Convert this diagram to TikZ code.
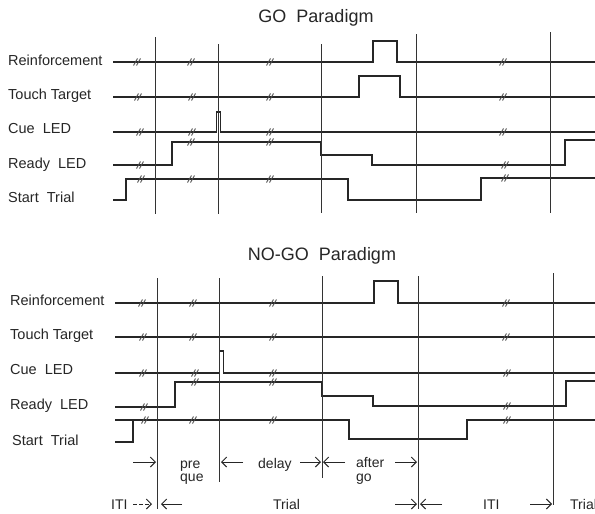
\documentclass[tikz,border=0pt]{standalone}
\usepackage{fontspec}
\setmainfont{Liberation Sans}
\usetikzlibrary{arrows.meta}
\tikzset{
 sig/.style={line width=1.2pt, draw=black!85},
 vline/.style={line width=0.8pt, draw=black!80},
 lbl/.style={anchor=base west, inner sep=0pt, font=\fontsize{14.5}{16}\selectfont, text=black!85},
 ttl/.style={anchor=base, inner sep=0pt, font=\fontsize{18}{20}\selectfont, text=black!85},
 ann/.style={anchor=base west, inner sep=0pt, font=\fontsize{14}{15}\selectfont, text=black!85},
 arr/.style={line width=1pt, draw=black!85, -{Straight Barb[length=5pt,width=10pt]}},
 brkline/.style={line width=0.9pt, draw=black!70},
 brk/.pic={\draw[brkline] (-3.5,3.5)--(0.5,-3.5); \draw[brkline] (-0.5,3.5)--(3.5,-3.5);}
}
\begin{document}
\begin{tikzpicture}[x=1pt,y=-1pt]
\useasboundingbox (0,0) rectangle (595,514);
\fill[white] (0,0) rectangle (595,514);

% ===== GO Paradigm =====
\node[ttl] (t1) at (316,23) {GO\ \ Paradigm};
\node[lbl] (l1) at (8,65) {Reinforcement};
\node[lbl] (l2) at (8,99) {Touch\ Target};
\node[lbl] (l3) at (8,133) {Cue\ \ LED};
\node[lbl] (l4) at (8,168) {Ready\ \ LED};
\node[lbl] (l5) at (8,202) {Start\ \ Trial};

\draw[sig] (113,62) -| (373,41) -| (397,62) -- (595,62);
\draw[sig] (113,97) -| (359,76) -| (400,97) -- (595,97);
\draw[sig] (113,132) -| (216.5,112) -| (220.5,132) -- (595,132);
\draw[sig] (113,165) -| (172,142) -| (321,155) -| (372,165) -| (565,140) -- (595,140);
\draw[sig] (113,200) -| (126,179) -| (348,200) -| (481,178) -- (595,178);

\draw[vline] (155,37)--(155,214);
\draw[vline] (218,44)--(218,214);
\draw[vline] (321,44)--(321,213);
\draw[vline] (416,34)--(416,213);
\draw[vline] (550,32)--(550,213);

\foreach \x in {137,191,270,503} \pic at (\x,62) {brk};
\foreach \x in {138,192,270,503} \pic at (\x,97) {brk};
\foreach \x in {140,192,270,503} \pic at (\x,132) {brk};
\foreach \p in {(140,165),(191,142),(270,142),(505,165)} \pic at \p {brk};
\foreach \p in {(141,179),(191,179),(270,179),(505,178)} \pic at \p {brk};

% ===== NO-GO Paradigm =====
\node[ttl] (t2) at (322,260) {NO-GO\ \ Paradigm};
\node[lbl] (m1) at (10,305) {Reinforcement};
\node[lbl] (m2) at (10,339) {Touch\ Target};
\node[lbl] (m3) at (10,374) {Cue\ \ LED};
\node[lbl] (m4) at (10,409) {Ready\ \ LED};
\node[lbl] (m5) at (12,445) {Start\ \ Trial};

\draw[sig] (115,303) -| (374,281) -| (398,303) -- (595,303);
\draw[sig] (115,337) -- (595,337);
\draw[sig] (115,373) -| (219.5,351) -| (223.5,373) -- (595,373);
\draw[sig] (115,407) -| (175,382) -| (322,396) -| (373,406) -| (566,381) -- (595,381);
\draw[sig] (115,442) -| (133,420) -| (349,439) -| (467,420) -- (595,420);
\draw[sig] (115,420) -- (133,420);

\draw[vline] (157,278)--(157,509);
\draw[vline] (219,278)--(219,482);
\draw[vline] (322,276)--(322,478);
\draw[vline] (418,276)--(418,509);
\draw[vline] (553,273)--(553,505);

\foreach \x in {142,193,273,506} \pic at (\x,303) {brk};
\foreach \x in {143,193,273,506} \pic at (\x,337) {brk};
\foreach \x in {143,195,273,507} \pic at (\x,373) {brk};
\foreach \p in {(144,407),(195,382),(273,382),(507,406)} \pic at \p {brk};
\foreach \x in {145,193,273,507} \pic at (\x,420) {brk};

% ===== phase annotations =====
\node[ann] (pre) at (180,468) {pre};
\node[ann] (que) at (180,481) {que};
\node[ann] (delay) at (258,468) {delay};
\node[ann] (after) at (356,467) {after};
\node[ann] (go) at (356,481) {go};
\node[ann] (iti1) at (111,509) {ITI};
\node[ann] (trial1) at (273,509) {Trial};
\node[ann] (iti2) at (483,509) {ITI};
\node[ann] (trial2) at (570,509) {Trial};

\draw[arr] (133,462) -- (156,462);
\draw[arr] (243,462) -- (221,462);
\draw[arr] (300,462) -- (321,462);
\draw[arr] (345,462) -- (323,462);
\draw[arr] (395,462) -- (417,462);

\draw[arr, dash pattern=on 4pt off 2pt] (133,504) -- (152,504);
\draw[arr] (182,504) -- (161,504);
\draw[arr] (395,504) -- (417,504);
\draw[arr] (442,504) -- (420,504);
\draw[arr] (530,504) -- (552,504);
\end{tikzpicture}
\end{document}
